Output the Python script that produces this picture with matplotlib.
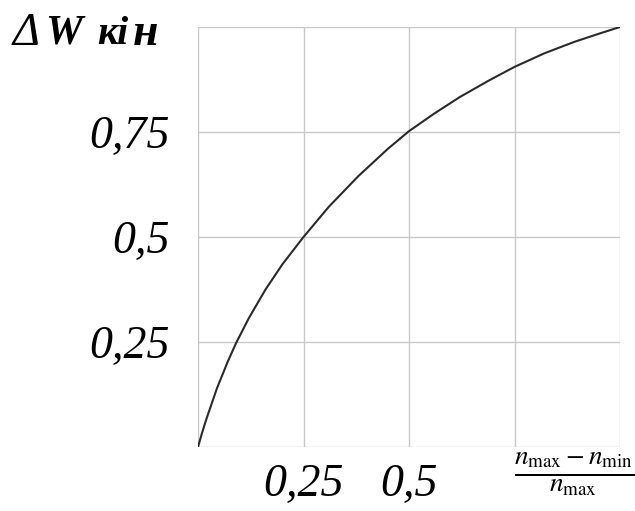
import numpy as np
import matplotlib
matplotlib.use("Agg")
import matplotlib.pyplot as plt

# values
x_ratio = [0, 0.01, 0.02, 0.045, 0.07, 0.09, 0.12, 0.16, 0.20, 0.25, 0.31, 0.38, 0.45,
           0.50, 0.56, 0.62, 0.69, 0.75, 0.82, 0.89, 0.95, 1.0]
dw_kin = [0, 0.035, 0.067, 0.14, 0.202, 0.247, 0.306, 0.375, 0.435, 0.5, 0.572, 0.645, 0.71,
          0.752, 0.794, 0.833, 0.873, 0.905, 0.937, 0.964, 0.984, 1.0]

grid_ticks = [0, 0.25, 0.5, 0.75, 1.0]
x_labels = {0.25: "0,25", 0.5: "0,5"}
y_labels = {0.25: "0,25", 0.5: "0,5", 0.75: "0,75"}

plt.rcParams['font.family'] = ['Liberation Serif', 'DejaVu Serif']
plt.rcParams['mathtext.fontset'] = 'stix'

fig = plt.figure(figsize=(6.35, 5.11), dpi=100)
ax = fig.add_axes([198/635, 64/511, 422/635, 420/511])

gray = '#c8c8c8'
for t in grid_ticks:
    ax.axvline(t, color=gray, lw=1.0, zorder=1)
    ax.axhline(t, color=gray, lw=1.0, zorder=1)

ax.plot(x_ratio, dw_kin, color='#2a2a2a', lw=1.5, zorder=3,
        solid_joinstyle='round')

ax.set_xlim(0, 1)
ax.set_ylim(0, 1)
for s in ax.spines.values():
    s.set_visible(False)
ax.set_xticks(list(x_labels.keys()))
ax.set_xticklabels(list(x_labels.values()))
ax.set_yticks(list(y_labels.keys()))
ax.set_yticklabels(list(y_labels.values()))
ax.tick_params(length=0)
ax.tick_params(axis='x', pad=12, labelsize=33)
ax.tick_params(axis='y', pad=20, labelsize=33)
for lab in ax.get_xticklabels() + ax.get_yticklabels():
    lab.set_fontstyle('italic')

# y axis title, letters spread as in the original
title_y = 1 - 34/511
fig.text(13/635, title_y, "Δ", fontsize=33, fontstyle='italic', va='center', ha='left')
fig.text(45/635, title_y, "W", fontsize=30, fontstyle='italic', fontweight='bold',
         va='center', ha='left')
fig.text(97/635, title_y, "к", fontsize=29, fontstyle='italic', fontweight='bold',
         va='center', ha='left')
fig.text(117/635, title_y, "і", fontsize=29, fontstyle='italic', fontweight='bold',
         va='center', ha='left')
fig.text(133/635, title_y, "н", fontsize=33, fontstyle='italic', fontweight='bold',
         va='center', ha='left')

fig.text(574/635, 1 - 474/511, r'$\frac{n_{\max}-n_{\min}}{n_{\max}}$',
         fontsize=28, va='center', ha='center')

fig.savefig('out.png', dpi=100)
